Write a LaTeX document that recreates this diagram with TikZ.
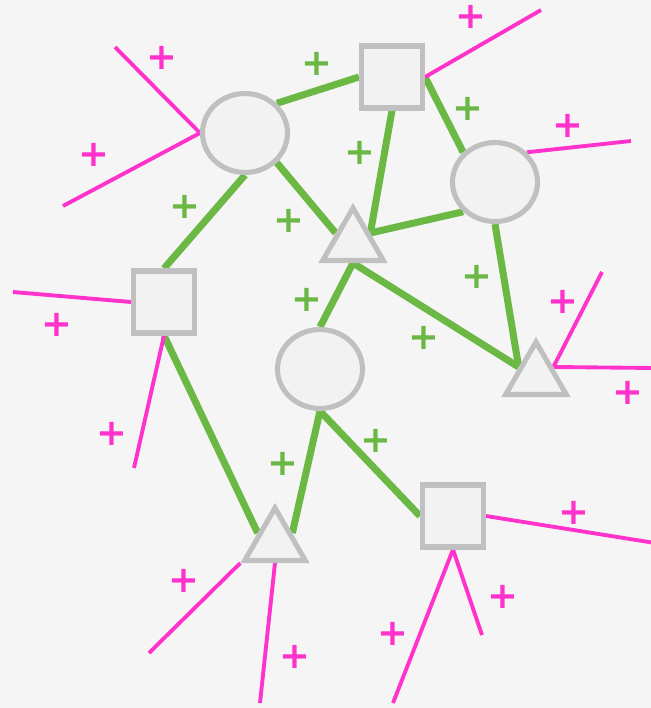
\documentclass[tikz,border=0pt]{standalone}
\usepackage{fontspec}
\usepackage{xcolor}
\usepackage{tikz}
\usetikzlibrary{shapes.geometric,backgrounds}
\newfontfamily\plusfont{DejaVu Sans}

\definecolor{bgGray}{HTML}{F5F5F5}
\definecolor{nodeFill}{HTML}{F2F2F2}
\definecolor{nodeLine}{HTML}{C0C0C0}
\definecolor{edgeGreen}{HTML}{6CB845}
\definecolor{edgePink}{HTML}{FF33CC}

\begin{document}
\begin{tikzpicture}[
    x=0.02cm, y=-0.02cm,
    ellipse_node/.style={ellipse, draw=nodeLine, fill=nodeFill, line width=2.9pt, minimum width=1.70cm, minimum height=1.58cm, inner sep=0pt},
    square_node/.style={rectangle, draw=nodeLine, fill=nodeFill, line width=2.9pt, minimum width=1.22cm, minimum height=1.24cm, inner sep=0pt},
    tri_node/.style={regular polygon, regular polygon sides=3, draw=nodeLine, fill=nodeFill, line width=2.9pt, minimum size=1.40cm, inner sep=0pt},
    green_edge/.style={edgeGreen, line width=4pt},
    pink_edge/.style={edgePink, line width=2.2pt},
    plus_green/.style={text=edgeGreen, inner sep=0pt, font=\plusfont\bfseries\fontsize{21}{21}\selectfont},
    plus_pink/.style={text=edgePink, inner sep=0pt, font=\plusfont\bfseries\fontsize{21}{21}\selectfont}
]
    \useasboundingbox (0,0) rectangle (651,708);

    % --- Nodes ---
    \node[ellipse_node] (e1) at (245,133) {};
    \node[square_node] (s1) at (392,77) {};
    \node[ellipse_node] (e2) at (495,182) {};
    \node[tri_node] (t1) at (353,243) {};
    \node[square_node] (s2) at (164,302) {};
    \node[ellipse_node] (e3) at (320,369) {};
    \node[tri_node] (t2) at (536,377) {};
    \node[tri_node] (t3) at (275,543) {};
    \node[square_node] (s3) at (453,516) {};

    % --- Free ends ---
    \coordinate (f1) at (115,47);
    \coordinate (f2) at (63,206);
    \coordinate (f3) at (541,10);
    \coordinate (f4) at (631,141);
    \coordinate (f5) at (13,292);
    \coordinate (f6) at (134,468);
    \coordinate (f7) at (602,272);
    \coordinate (f8) at (655,368);
    \coordinate (f9) at (149,653);
    \coordinate (f10) at (260,703);
    \coordinate (f11) at (655,543);
    \coordinate (f12) at (393,703);
    \coordinate (f13) at (482,635);

    \begin{scope}[on background layer]
    \fill[bgGray] (0,0) rectangle (651,708);

    % --- Edges: green ---
    \draw[green_edge] (e1.north east) -- (s1.west);
    \draw[green_edge] (s1.east) -- (e2.north west);
    \draw[green_edge] (s1.south) -- (t1.side 3);
    \draw[green_edge] (t1.side 3) -- (e2.south west);
    \draw[green_edge] (e1.south east) -- (t1.side 1);
    \draw[green_edge] (e1.south) -- (s2.north);
    \draw[green_edge] (t1.side 2) -- (e3.north);
    \draw[green_edge] (t1.side 2) -- (t2.side 1);
    \draw[green_edge] (e2.south) -- (t2.side 1);
    \draw[green_edge] (s2.south) -- (t3.side 1);
    \draw[green_edge] (e3.south) -- (t3.side 3);
    \draw[green_edge] (e3.south) -- (s3.west);

    % --- Edges: pink ---
    \draw[pink_edge] (e1.west) -- (f1);
    \draw[pink_edge] (e1.west) -- (f2);
    \draw[pink_edge] (s1.east) -- (f3);
    \draw[pink_edge] (e2.north east) -- (f4);
    \draw[pink_edge] (s2.west) -- (f5);
    \draw[pink_edge] (s2.south) -- (f6);
    \draw[pink_edge] (t2.side 3) -- (f7);
    \draw[pink_edge] (t2.side 3) -- (f8);
    \draw[pink_edge] (t3.corner 2) -- (f9);
    \draw[pink_edge] (t3.side 2) -- (f10);
    \draw[pink_edge] (s3.east) -- (f11);
    \draw[pink_edge] (s3.south) -- (f12);
    \draw[pink_edge] (s3.south) -- (f13);
    \end{scope}

    % --- Labels ---
    \node[plus_green] (g1) at (317,64) {+};
    \node[plus_green] (g2) at (468,109) {+};
    \node[plus_green] (g3) at (360,153) {+};
    \node[plus_green] (g4) at (185,207) {+};
    \node[plus_green] (g5) at (289,221) {+};
    \node[plus_green] (g6) at (477,277) {+};
    \node[plus_green] (g7) at (307,300) {+};
    \node[plus_green] (g8) at (424,338) {+};
    \node[plus_green] (g9) at (376,441) {+};
    \node[plus_green] (g10) at (283,464) {+};

    \node[plus_pink] (p1) at (471,17) {+};
    \node[plus_pink] (p2) at (162,58) {+};
    \node[plus_pink] (p3) at (94,155) {+};
    \node[plus_pink] (p4) at (568,126) {+};
    \node[plus_pink] (p5) at (57,325) {+};
    \node[plus_pink] (p6) at (563,302) {+};
    \node[plus_pink] (p7) at (628,393) {+};
    \node[plus_pink] (p8) at (112,434) {+};
    \node[plus_pink] (p9) at (574,513) {+};
    \node[plus_pink] (p10) at (503,597) {+};
    \node[plus_pink] (p11) at (184,581) {+};
    \node[plus_pink] (p12) at (393,634) {+};
    \node[plus_pink] (p13) at (295,657) {+};

\end{tikzpicture}
\end{document}
